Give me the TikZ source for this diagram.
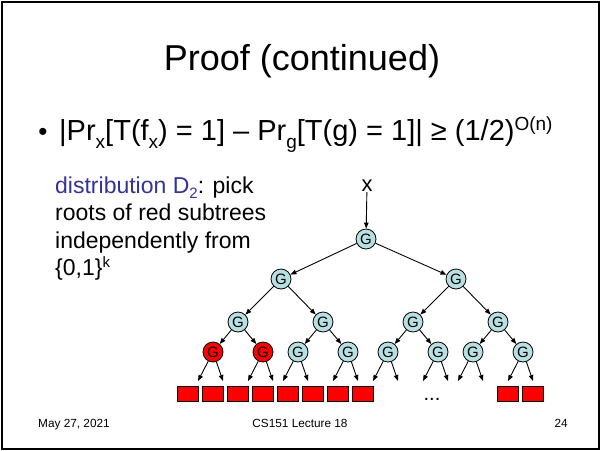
\documentclass[tikz,border=0pt]{standalone}
\usepackage{fontspec}
\setmainfont{Liberation Sans}
\usetikzlibrary{arrows.meta,positioning}
\definecolor{gatefill}{RGB}{183,224,227}
\definecolor{slideblue}{RGB}{51,51,153}
\newcommand{\lowsub}[1]{\raisebox{-8pt}{\fontsize{19}{19}\selectfont #1}}
\newcommand{\smallsub}[1]{\raisebox{-5pt}{\fontsize{15}{15}\selectfont #1}}
\newcommand{\highsup}[1]{\raisebox{10pt}{\fontsize{19}{19}\selectfont #1}}
\newcommand{\smallsup}[1]{\raisebox{8pt}{\fontsize{15}{15}\selectfont #1}}

\begin{document}
\begin{tikzpicture}[x=1pt, y=-1pt,
    gate/.style={draw, circle, fill=gatefill, minimum size=20pt, inner sep=0pt, line width=0.8pt,
                 font=\fontsize{15}{15}\selectfont},
    redgate/.style={gate, fill=red},
    leaf/.style={draw, fill=red, minimum width=21pt, minimum height=15pt, inner sep=0pt, line width=0.8pt},
    wire/.style={->, line width=0.9pt},
    foot/.style={anchor=base, inner sep=0pt, font=\fontsize{11.8}{14}\selectfont},
    >={Triangle[length=6pt,width=4.5pt]}
]
\useasboundingbox (0,0) rectangle (601,450);

% slide frame
\draw[line width=2pt] (1.5,1.5) rectangle (599,448.5);

% title and claim
\node[anchor=base, inner sep=0pt, font=\fontsize{36}{40}\selectfont] (title) at (302,70) {Proof (continued)};
\node[anchor=base, inner sep=0pt, font=\fontsize{26}{28}\selectfont] (bullet) at (43,140) {•};
\node[anchor=base west, inner sep=0pt, font=\fontsize{29}{32}\selectfont] (claim) at (59,140)
  {|Pr\lowsub{x}[T(f\lowsub{x}) = 1] – Pr\lowsub{g}[T(g) = 1]| ≥ (1/2)\highsup{O(n)}};

% explanation (base = last line)
\node[anchor=base west, align=left, inner sep=0pt,
      font=\fontsize{23}{27.5}\selectfont] (dist) at (55,275.5)
  {\textcolor{slideblue}{distribution D\smallsub{2}}: pick\\
   roots of red subtrees\\
   independently from\\
   \{0,1\}\smallsup{k}};

% input
\node[anchor=base, inner sep=1pt, font=\fontsize{22}{24}\selectfont] (input) at (367,191) {x};

% gates
\node[gate] (g1) at (366,239) {G};
\node[gate] (g21) at (281,279) {G};
\node[gate] (g22) at (456,279) {G};
\node[gate] (g31) at (238,322) {G};
\node[gate] (g32) at (323,322) {G};
\node[gate] (g33) at (413,322) {G};
\node[gate] (g34) at (498,322) {G};
\node[redgate] (g41) at (213,352) {G};
\node[redgate] (g42) at (263,352) {G};
\node[gate] (g43) at (298,352) {G};
\node[gate] (g44) at (348,352) {G};
\node[gate] (g45) at (388,352) {G};
\node[gate] (g46) at (438,352) {G};
\node[gate] (g47) at (473,352) {G};
\node[gate] (g48) at (523,352) {G};

\draw[wire] (input) -- (g1);
\draw[wire] (g1) -- (g21);
\draw[wire] (g1) -- (g22);
\draw[wire] (g21) -- (g31);
\draw[wire] (g21) -- (g32);
\draw[wire] (g22) -- (g33);
\draw[wire] (g22) -- (g34);
\draw[wire] (g31) -- (g41);
\draw[wire] (g31) -- (g42);
\draw[wire] (g32) -- (g43);
\draw[wire] (g32) -- (g44);
\draw[wire] (g33) -- (g45);
\draw[wire] (g33) -- (g46);
\draw[wire] (g34) -- (g47);
\draw[wire] (g34) -- (g48);

% wires into the leaves
\foreach \i in {41,...,48} {
  \coordinate (wl\i) at ([shift={(-15,29)}]g\i.center);
  \coordinate (wr\i) at ([shift={(10,29)}]g\i.center);
  \draw[wire] (g\i) -- (wl\i);
  \draw[wire] (g\i) -- (wr\i);
}

% leaf blocks
\foreach \x [count=\k] in {188,213,238,263,288,313,338,363,508,533}
  \node[leaf] (b\k) at (\x,394) {};
\node[anchor=base, inner sep=0pt, font=\fontsize{20}{20}\selectfont] (dots) at (432,400) {...};

% footer
\node[foot, anchor=base west] (date) at (38,427) {May 27, 2021};
\node[foot] (course) at (300,427) {CS151 Lecture 18};
\node[foot, anchor=base east] (page) at (568,427) {24};

\end{tikzpicture}
\end{document}
